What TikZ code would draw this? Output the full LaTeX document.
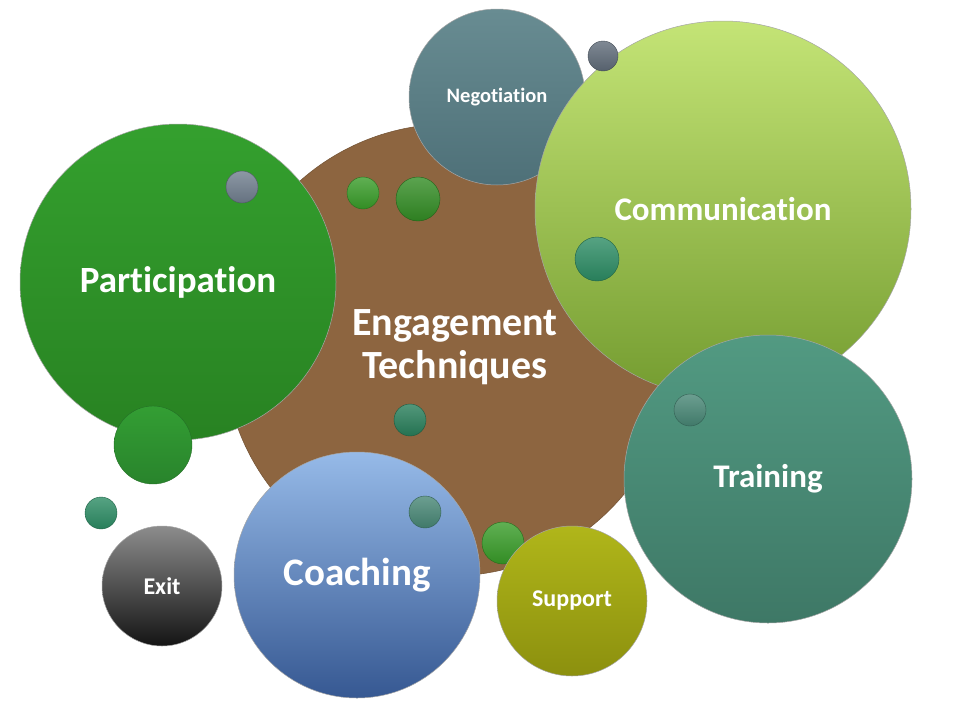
\documentclass[tikz,border=0pt]{standalone}
\usepackage{fontspec}
\setmainfont[Ligatures=NoCommon]{Carlito}
\usepackage{tikz}

\definecolor{brownE}{RGB}{141,101,64}
\definecolor{greenP}{RGB}{52,160,46}
\definecolor{greenPd}{RGB}{40,130,34}
\definecolor{limeC}{RGB}{196,228,118}
\definecolor{limeCd}{RGB}{116,156,48}
\definecolor{slateN}{RGB}{104,140,146}
\definecolor{slateNd}{RGB}{78,112,120}
\definecolor{tealT}{RGB}{82,154,130}
\definecolor{tealTd}{RGB}{62,120,102}
\definecolor{blueC}{RGB}{150,186,232}
\definecolor{blueCd}{RGB}{54,88,146}
\definecolor{oliveS}{RGB}{176,182,26}
\definecolor{oliveSd}{RGB}{140,144,14}
\definecolor{ballgray}{RGB}{112,126,142}
\definecolor{ballgreen}{RGB}{56,156,40}
\definecolor{ballteal}{RGB}{44,140,100}

\begin{document}
\begin{tikzpicture}[x=1pt,y=-1pt,
  bubble/.style={shape=circle,inner sep=0pt,text=white,align=center,draw=black!35,line width=0.5pt},
  ball/.style={shape=circle,inner sep=0pt,draw=#1!70!black,line width=0.4pt,top color=#1!80!white,bottom color=#1!90!black}]
\useasboundingbox (0,0) rectangle (960,720);

% main bubble
\path (450,350) node (engage) [bubble,minimum size=452pt,fill=brownE,draw=brownE!80!black] {};
\path (455,347) node (engagetxt) [text=white,align=center,font=\bfseries\fontsize{40}{43}\selectfont] {Engagement\\Techniques};

% surrounding bubbles
\path (178,282) node (partic) [bubble,minimum size=316pt,top color=greenP,bottom color=greenPd,font=\bfseries\fontsize{37}{40}\selectfont] {Participation};
\path (497,97) node (negot) [bubble,minimum size=176pt,top color=slateN,bottom color=slateNd,font=\bfseries\fontsize{20.5}{24}\selectfont] {Negotiation};
\path (723,209) node (commun) [bubble,minimum size=376pt,top color=limeC,bottom color=limeCd,font=\bfseries\fontsize{33}{36}\selectfont] {Communication};
\path (768,479) node (train) [bubble,minimum size=288pt,top color=tealT,bottom color=tealTd,font=\bfseries\fontsize{33}{36}\selectfont] {Training};
\path (357,575) node (coach) [bubble,minimum size=246pt,top color=blueC,bottom color=blueCd,font=\bfseries\fontsize{39}{44}\selectfont] {Coaching};
\path (503,543) node (b9) [ball=ballgreen,minimum size=42pt] {};
\path (572,601) node (support) [bubble,minimum size=150pt,top color=oliveS,bottom color=oliveSd,font=\bfseries\fontsize{24}{26}\selectfont] {Support};
\path (162,586) node (exit) [bubble,minimum size=120pt,top color=black!45,bottom color=black!92,font=\bfseries\fontsize{24}{26}\selectfont] {Exit};

% small balls
\path (242,187) node (b1) [ball=ballgray,minimum size=32pt] {};
\path (363,193) node (b2) [ball=ballgreen,minimum size=32pt] {};
\path (418,199) node (b3) [ball=ballgreen!90!black,minimum size=44pt] {};
\path (603,56) node (b4) [ball=ballgray!85!black,minimum size=30pt] {};
\path (597,259) node (b5) [ball=ballteal,minimum size=44pt] {};
\path (153,445) node (b6) [ball=greenP!85!ballteal,minimum size=78pt,top color=greenP!90!ballteal,bottom color=greenPd!85!ballteal] {};
\path (101,513) node (b7) [ball=ballteal,minimum size=32pt] {};
\path (410,420) node (b8) [ball=ballteal!90!black,minimum size=32pt] {};
\path (425,512) node (b10) [ball=ballteal!60!ballgray,minimum size=32pt] {};
\path (690,410) node (b11) [ball=ballteal!60!ballgray,minimum size=32pt] {};
\end{tikzpicture}
\end{document}
